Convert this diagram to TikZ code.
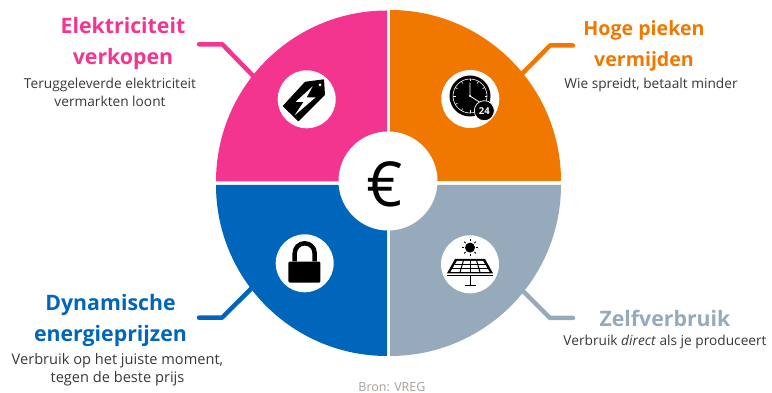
\documentclass[tikz,border=0pt]{standalone}
\usepackage{fontspec}
\setmainfont{Open Sans}
\definecolor{pinkslice}{HTML}{F33590}
\definecolor{orangeslice}{HTML}{F07800}
\definecolor{blueslice}{HTML}{0066BB}
\definecolor{grayslice}{HTML}{96AABB}
\definecolor{bodytext}{HTML}{383838}
\definecolor{sourcetext}{HTML}{A89F98}
\tikzset{
  heading/.style={font=\fontsize{21.3}{26}\selectfont\bfseries, align=center, inner sep=0pt},
  subtext/.style={font=\fontsize{13.7}{17.5}\selectfont, text=bodytext, align=center, inner sep=0pt},
  leader/.style={line width=4.5pt, line join=round},
  iconhole/.style={circle, fill=white, minimum size=58pt, inner sep=0pt},
}
\begin{document}
\begin{tikzpicture}[x=1pt,y=1pt]
\useasboundingbox (0,0) rectangle (772,393);

% LEADERS
  \coordinate (pinkend) at (199,348.7);
  \coordinate (pinkknee) at (222.3,348.7);
  \coordinate (pinkfoot) at (262,308);
  \coordinate (orangeend) at (573,347.5);
  \coordinate (orangeknee) at (550,347.5);
  \coordinate (orangefoot) at (512,309);
  \coordinate (blueend) at (199,75.3);
  \coordinate (blueknee) at (222,75.3);
  \coordinate (bluefoot) at (262,115);
  \coordinate (grayend) at (573,75);
  \coordinate (grayknee) at (550,75);
  \coordinate (grayfoot) at (512,113);
  \draw[leader, pinkslice, line cap=round] (pinkend) -- (pinkknee) -- (pinkfoot);
  \draw[leader, orangeslice, line cap=round] (orangeend) -- (orangeknee) -- (orangefoot);
  \draw[leader, blueslice, line cap=round] (blueend) -- (blueknee) -- (bluefoot);
  \draw[leader, grayslice, line cap=round] (grayend) -- (grayknee) -- (grayfoot);

% SLICES
  \fill[pinkslice] (387,211.5) -- (216,211.5) arc[start angle=180, end angle=90, radius=171] -- cycle;
  \fill[orangeslice] (390,212) -- (390,383) arc[start angle=90, end angle=0, radius=171] -- cycle;
  \fill[blueslice] (387,208) -- (387,37) arc[start angle=270, end angle=180, radius=171] -- cycle;
  \fill[grayslice] (390,208) -- (561,208) arc[start angle=0, end angle=-90, radius=171] -- cycle;

% CENTRE
  \node[circle, fill=white, minimum size=99pt, inner sep=0pt] (hub) at (388,212) {};
  \node[font=\fontsize{62}{66}\selectfont, inner sep=0pt] (euro) at (385,209) {€};

% ICON HOLES
  \node[iconhole] (tagspot) at (306.7,293.7) {};
  \node[iconhole] (clockspot) at (470.3,294) {};
  \node[iconhole] (lockspot) at (304.7,129.7) {};
  \node[iconhole] (solarspot) at (470,128.7) {};

% Tag icon
  \begin{scope}[shift={(tagspot.center)}]
    \fill[black, rounded corners=.6pt] (-1.7,17.5) -- (17.3,20) -- (18.3,4.3) -- (-8.3,-22.3) -- (-24,-6.7) -- cycle;
    \fill[white] (13.3,14.3) circle (1.5);
    \fill[white] (6,13) -- (-11,-2.5) -- (-3,-2.5) -- (-12,-16) -- (9,2) -- (0,2) -- cycle;
  \end{scope}

% Clock icon
  \begin{scope}[shift={(clockspot.center)}]
    \fill[black] (-0.3,3) circle (20.5);
    \draw[white, line width=.6pt] (-0.3,3) circle (17);
    \foreach \a in {0,30,...,330}
      \draw[white, line width=.6pt, shift={(-0.3,3)}] (\a:14.5) -- (\a:17);
    \draw[white, line width=.8pt] (-0.3,16) -- (-0.3,3) -- (9,-3);
    \fill[white] (-0.3,3) circle (1.2);
    \node[circle, fill=black, draw=white, line width=.7pt, minimum size=20pt, inner sep=0pt,
          text=white, font=\fontsize{9.5}{10}\selectfont\bfseries] (clockbadge) at (14,-11.7) {24};
  \end{scope}

% Lock icon
  \begin{scope}[shift={(lockspot.center)}]
    \draw[black, line width=4.5pt] (-10,2) -- (-10,10) arc[start angle=180, end angle=0, radius=10] -- (10,2);
    \fill[black, rounded corners=1.2pt] (-16.3,1.7) rectangle (15.7,-19.3);
  \end{scope}

% Solar icon
  \begin{scope}[shift={(solarspot.center)}]
    \fill[black] (0,16.7) circle (5);
    \foreach \a in {0,45,...,315}
      \draw[black, line width=.9pt, shift={(0,16.7)}] (\a:6.2) -- (\a:8.3);
    \fill[black] (-15,5.3) -- (15,5.3) -- (23,-9) -- (-23,-9) -- cycle;
    \fill[white] (-13,3.5) -- (13,3.5) -- (19.5,-7.5) -- (-19.5,-7.5) -- cycle;
    \foreach \t/\b in {-6.5/-10,0/0,6.5/10}
      \draw[black, line width=1pt] (\t,4) -- (\b,-8);
    \draw[black, line width=.6pt] (-15.5,-.5) -- (15.5,-.5);
    \draw[black, line width=.6pt] (-18,-4) -- (18,-4);
    \draw[black, line width=1pt] (-23,-11.7) -- (23,-11.7);
    \draw[black, line width=1pt] (0,-11.7) -- (0,-21.3);
    \draw[black, line width=1pt] (-5.5,-21.3) -- (5.5,-21.3);
  \end{scope}

% LABELS
  \node[heading, text=pinkslice] (pinkhead) at (123,350) {Elektriciteit\\[5pt]verkopen};
  \node[subtext] (pinksub) at (110,300.5) {Teruggeleverde elektriciteit\\vermarkten loont};
  \node[heading, text=orangeslice, font=\fontsize{19.6}{26}\selectfont\bfseries] (orangehead) at (644,347) {Hoge pieken\\[5pt]vermijden};
  \node[subtext] (orangesub) at (651,308) {Wie spreidt, betaalt minder};
  \node[heading, text=blueslice] (bluehead) at (110.5,73) {Dynamische\\[5pt]energieprijzen};
  \node[subtext, font=\fontsize{14.6}{18}\selectfont] (bluesub) at (117.5,23.5) {Verbruik op het juiste moment,\\tegen de beste prijs};
  \node[heading, text=grayslice] (grayhead) at (665,75) {Zelfverbruik};
  \node[subtext] (graysub) at (665,51) {Verbruik \textit{direct} als je produceert};
  \node[font=\fontsize{12.5}{14}\selectfont, text=sourcetext, inner sep=0pt] (source) at (392,6) {Bron: VREG};
\end{tikzpicture}
\end{document}
